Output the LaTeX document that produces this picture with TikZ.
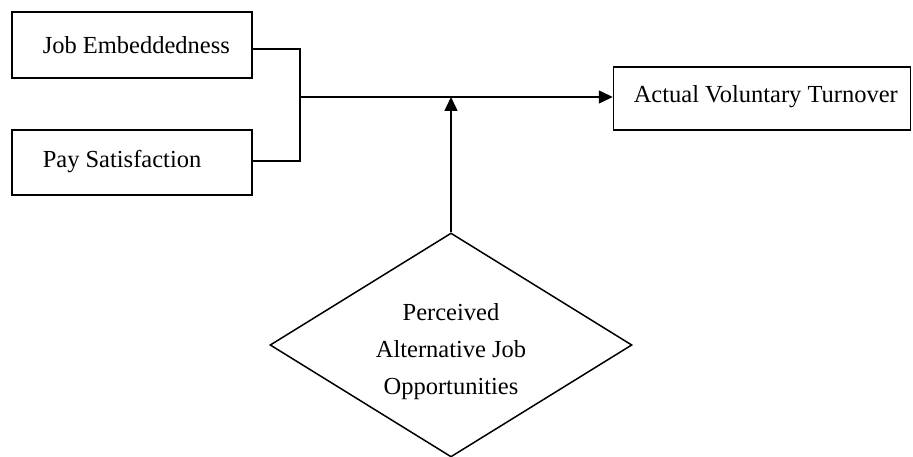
\documentclass[tikz,border=0pt]{standalone}
\usepackage{fontspec}
\setmainfont{Liberation Serif}
\usetikzlibrary{shapes.geometric,arrows.meta}
\begin{document}
\begin{tikzpicture}[x=1pt,y=1pt,
  line width=1.5pt,
  box/.style={draw, rectangle, inner sep=0pt},
  lbl/.style={font=\fontsize{24.5}{37}\selectfont, inner sep=0pt, align=center},
  tip/.style={-{Triangle[length=14pt,width=13pt]}}]
\useasboundingbox (0,0) rectangle (913,-457);
\node[box, minimum width=240, minimum height=66] (b1) at (132,-45) {};
\node[lbl, anchor=west] (t1) at (42,-45) {Job Embeddedness};
\node[box, minimum width=240, minimum height=65] (b2) at (132,-162.5) {};
\node[lbl, anchor=west] (t2) at (42,-162) {Pay Satisfaction};
\node[box, minimum width=297, minimum height=63] (b3) at (762,-98.5) {};
\node[lbl, anchor=west] (t3) at (633,-97) {Actual Voluntary Turnover};
\node[draw, diamond, minimum width=362, minimum height=224, inner sep=0pt] (d) at (451,-345) {};
\node[lbl] (dt) at (451,-352) {Perceived\\Alternative Job\\Opportunities};
\coordinate (jt) at (300,-49);
\coordinate (jb) at (300,-161);
\coordinate (j) at (300,-97);
\draw (b1.east |- jt) -- (jt) -- (jb) -- (b2.east |- jb);
\draw[tip] (j) -- (j -| b3.west);
\draw[tip] (d.north) -- (d.north |- j);
\end{tikzpicture}
\end{document}
